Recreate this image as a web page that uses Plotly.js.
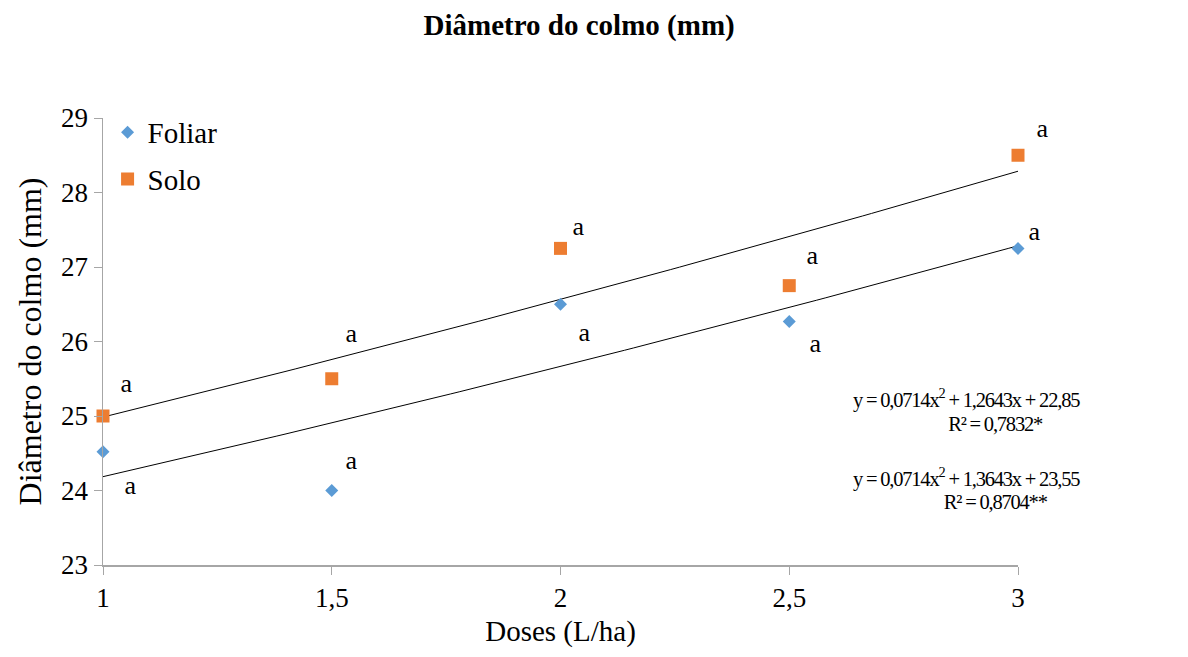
<!DOCTYPE html>
<html>
<head>
<meta charset="utf-8">
<script src="https://cdn.plot.ly/plotly-3.0.1.min.js"></script>
<style>
html,body{margin:0;padding:0;background:#fff;}
#chart{width:1188px;height:657px;}
#chart .annotation-text{letter-spacing:-1.2px;}
</style>
</head>
<body>
<div id="chart"></div>
<script>
const doses = [1, 1.5, 2, 2.5, 3];
const doseLabels = ['1', '1,5', '2', '2,5', '3'];
const foliar = [24.52, 24.0, 26.5, 26.27, 27.25];
const solo = [25.0, 25.5, 27.25, 26.75, 28.5];
const foliarLetters = ['a', 'a', 'a', 'a', 'a'];
const soloLetters = ['a', 'a', 'a', 'a', 'a'];
// trendline coefficients [a, b, c] for y = a x^2 + b x + c, as printed on chart
const foliarFit = [0.0714, 1.2643, 22.85];
const soloFit = [0.0714, 1.3643, 23.55];
const eqTexts = ['y = 0,0714x<sup>2</sup> + 1,2643x + 22,85', 'R² = 0,7832*',
                 'y = 0,0714x<sup>2</sup> + 1,3643x + 23,55', 'R² = 0,8704**'];

const FONT = 'Liberation Serif, Times New Roman, serif';

function curve(coef) {
  const xs = [], ys = [];
  for (let i = 0; i <= 100; i++) {
    const x = doses[0] + (doses[doses.length - 1] - doses[0]) * i / 100;
    xs.push(x);
    ys.push(coef[0] * x * x + coef[1] * x + coef[2]);
  }
  return {x: xs, y: ys};
}
const fc = curve(foliarFit), sc = curve(soloFit);

const traces = [
  {x: fc.x, y: fc.y, mode: 'lines', line: {color: '#000', width: 1}, showlegend: false, hoverinfo: 'skip'},
  {x: sc.x, y: sc.y, mode: 'lines', line: {color: '#000', width: 1}, showlegend: false, hoverinfo: 'skip'},
  {x: doses, y: foliar, mode: 'markers', name: 'Foliar', legendgroup: 'f',
   marker: {symbol: 'diamond', size: 10, color: '#5B9BD5'}, cliponaxis: false},
  {x: doses, y: solo, mode: 'markers', name: 'Solo', legendgroup: 's',
   marker: {symbol: 'square', size: 13, color: '#ED7D31'}, cliponaxis: false}
];

const soloShift = [[23, 33], [19, 45], [17, 22], [23, 30], [24, 27]];
const foliarShift = [[27, -34], [19, 30], [23, -28], [26, -22], [16, 17]];
const annotations = [];
doses.forEach((d, i) => {
  annotations.push({x: d, y: solo[i], xref: 'x', yref: 'y', text: soloLetters[i], showarrow: false,
    xshift: soloShift[i][0], yshift: soloShift[i][1], font: {family: FONT, size: 26, color: '#000'}});
  annotations.push({x: d, y: foliar[i], xref: 'x', yref: 'y', text: foliarLetters[i], showarrow: false,
    xshift: foliarShift[i][0], yshift: foliarShift[i][1], font: {family: FONT, size: 26, color: '#000'}});
});
const eqPos = [[966, 398], [995, 424], [966, 477], [995, 502]];
eqTexts.forEach((t, i) => {
  annotations.push({xref: 'paper', yref: 'paper',
    x: (eqPos[i][0] - 103) / 915, y: (565 - eqPos[i][1]) / 447,
    text: t, showarrow: false, xanchor: 'center', yanchor: 'middle',
    font: {family: FONT, size: 20.5, color: '#000'}});
});

const layout = {
  width: 1188, height: 657,
  margin: {l: 103, r: 170, t: 118, b: 92},
  paper_bgcolor: '#fff', plot_bgcolor: '#fff',
  font: {family: FONT, color: '#000'},
  title: {text: '<b>Diâmetro do colmo (mm)</b>', x: 0.4875, xanchor: 'center', y: 0.962, yanchor: 'middle',
          font: {family: FONT, size: 29, color: '#000'}},
  xaxis: {range: [1, 3], tickvals: doses, ticktext: doseLabels,
          showgrid: false, zeroline: false, showline: true, linecolor: '#a6a6a6', linewidth: 1.5,
          ticks: 'outside', ticklen: 8, tickcolor: '#a6a6a6', tickwidth: 1,
          tickfont: {family: FONT, size: 27, color: '#000'},
          title: {text: 'Doses (L/ha)', font: {family: FONT, size: 29, color: '#000'}, standoff: 9}},
  yaxis: {range: [23, 29], dtick: 1, showgrid: false, zeroline: false, showline: true,
          linecolor: '#a6a6a6', linewidth: 1.5, ticks: 'outside', ticklen: 8, tickcolor: '#a6a6a6',
          tickfont: {family: FONT, size: 27, color: '#000'},
          title: {text: 'Diâmetro do colmo (mm)', font: {family: FONT, size: 32, color: '#000'}, standoff: 10}},
  legend: {x: 0.005, y: 1.025, xanchor: 'left', yanchor: 'top', bgcolor: 'rgba(0,0,0,0)',
           font: {family: FONT, size: 29, color: '#000'}, traceorder: 'grouped', tracegroupgap: 6,
           itemwidth: 30},
  annotations: annotations,
  showlegend: true
};

Plotly.newPlot('chart', traces, layout, {displayModeBar: false, staticPlot: true});
</script>
</body>
</html>
